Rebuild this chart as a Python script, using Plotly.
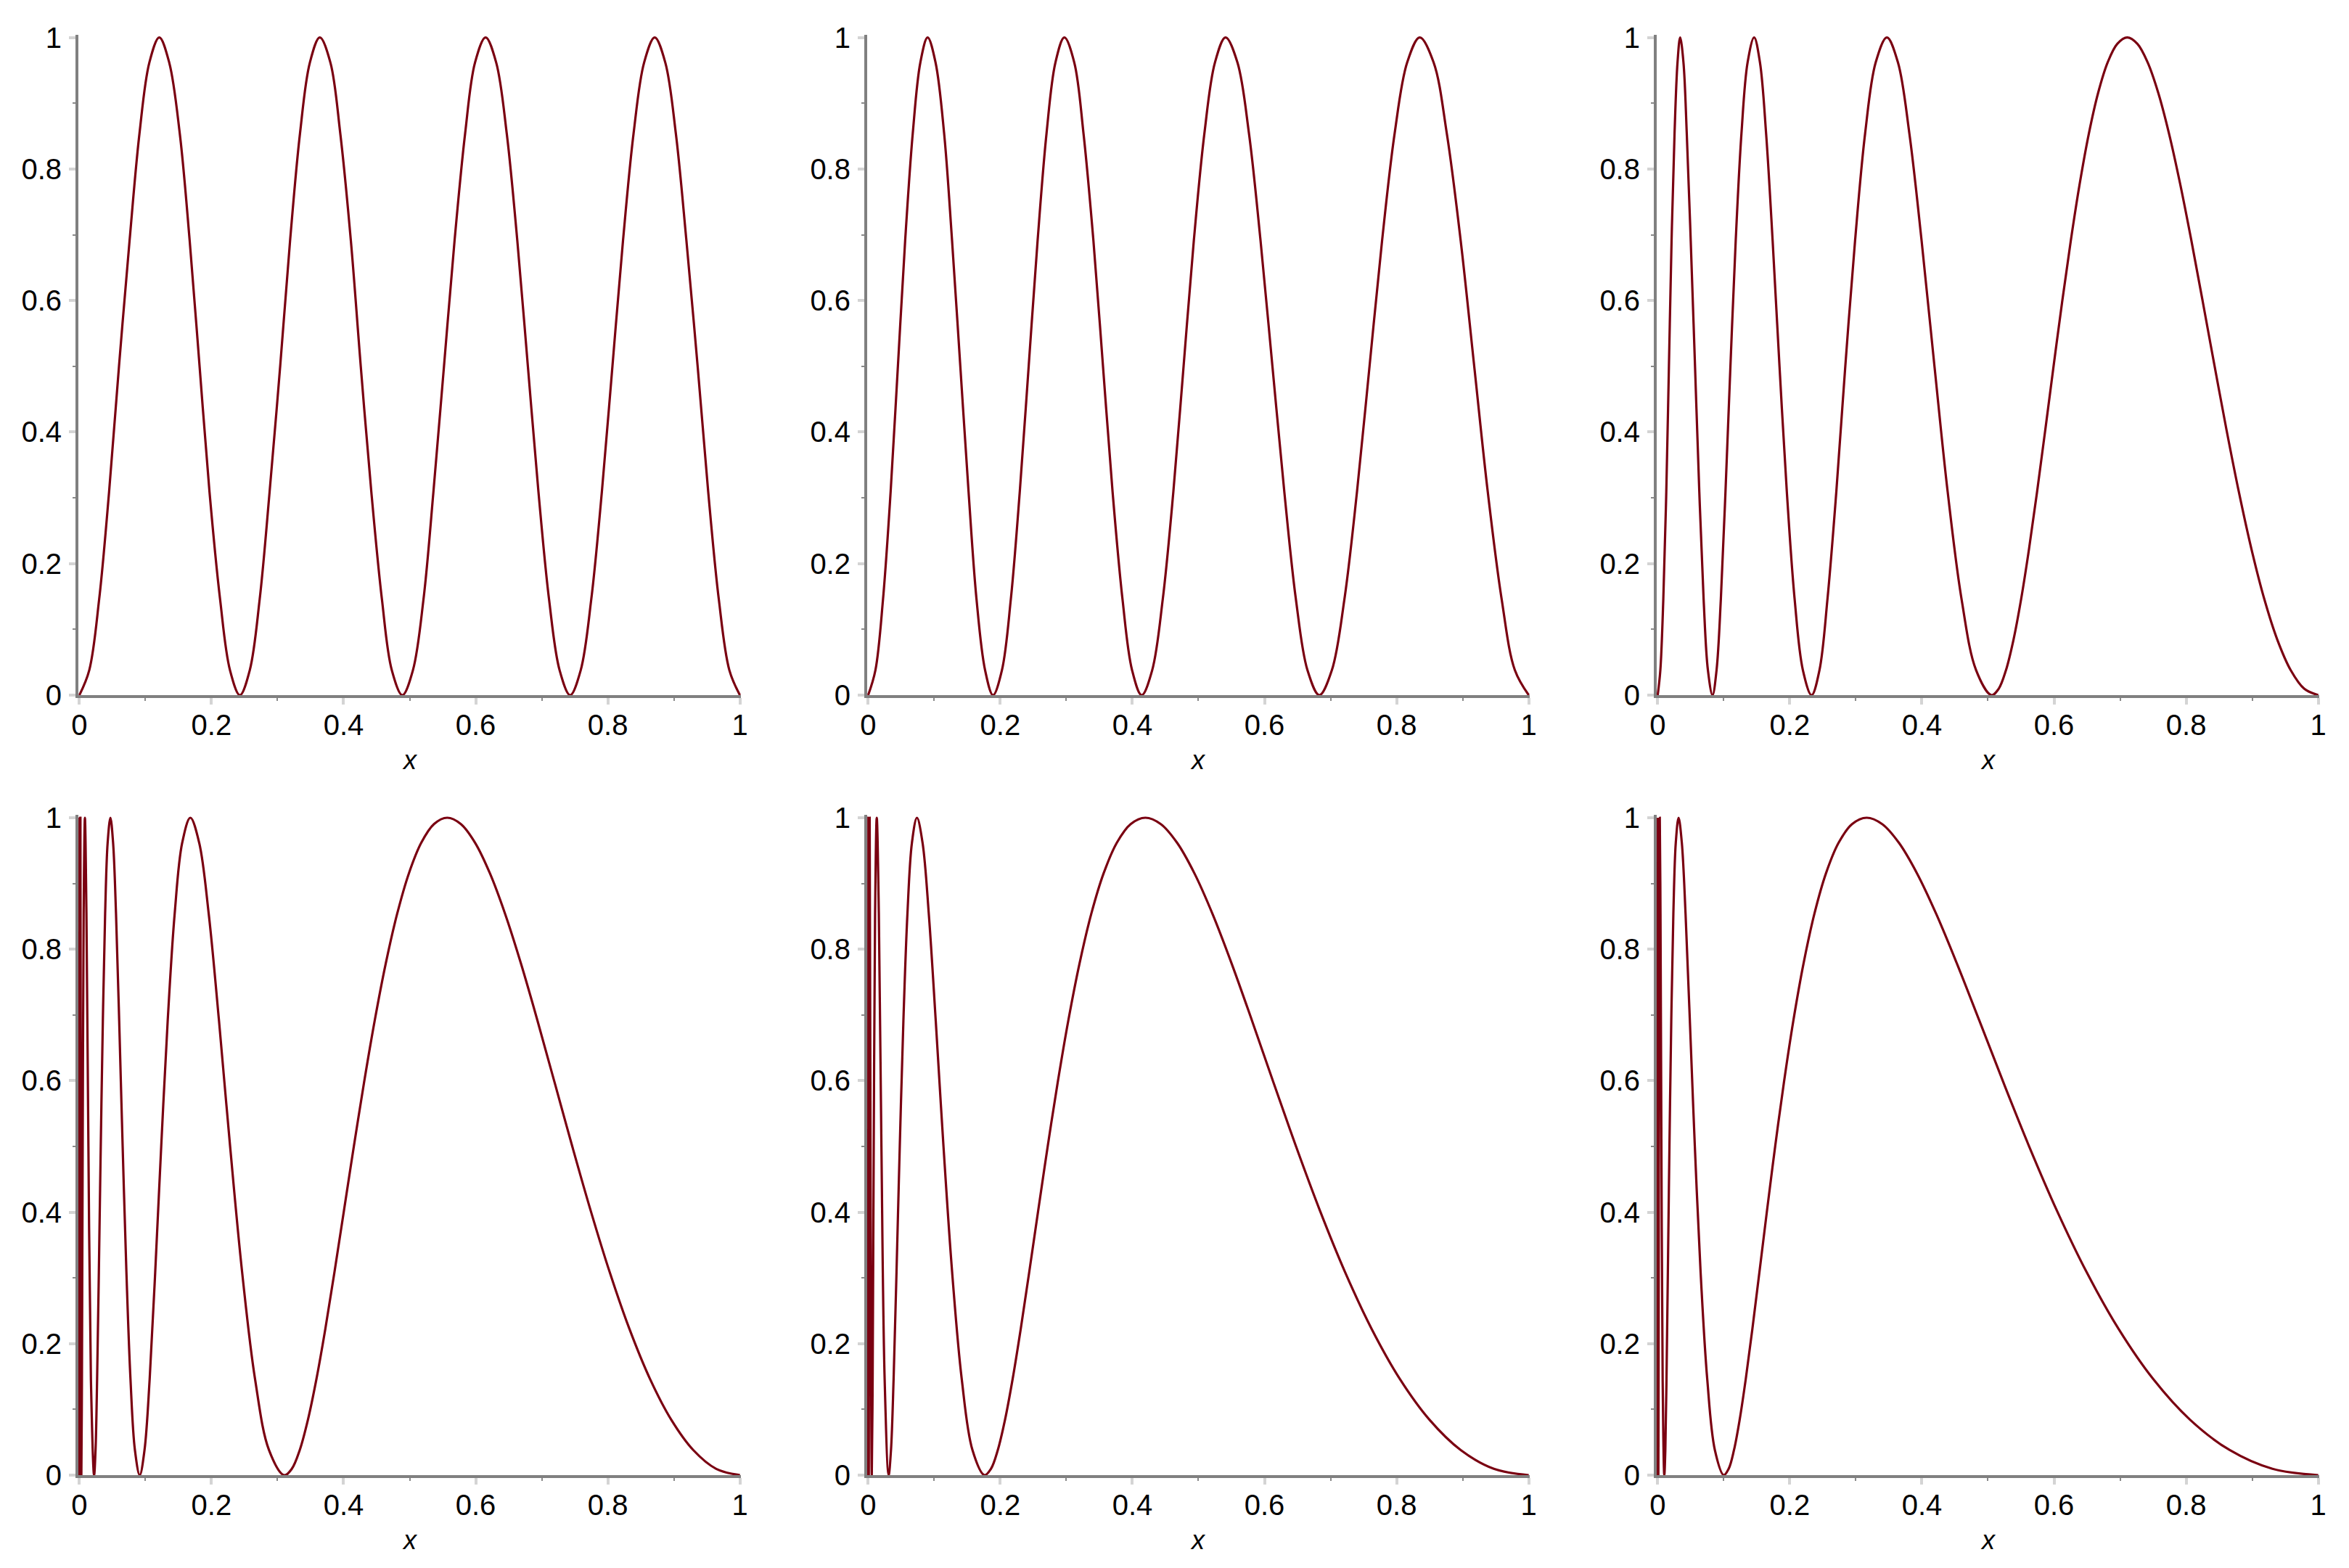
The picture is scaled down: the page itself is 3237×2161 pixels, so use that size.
import plotly.graph_objects as go
from plotly.subplots import make_subplots

# values (x in [0, 1], y in [0, 1])
p1_x = [0, 0.015, 0.030, 0.045, 0.060, 0.076, 0.091, 0.106, 0.121, 0.136, 0.152, 0.167, 0.182, 0.197, 0.213, 0.228,
        0.243, 0.258, 0.273, 0.288, 0.304, 0.319, 0.334, 0.349, 0.364, 0.380, 0.395, 0.411, 0.426, 0.442, 0.458, 0.473,
        0.489, 0.505, 0.521, 0.536, 0.552, 0.568, 0.584, 0.599, 0.615, 0.631, 0.647, 0.663, 0.679, 0.695, 0.711, 0.727,
        0.743, 0.759, 0.775, 0.791, 0.807, 0.823, 0.839, 0.855, 0.871, 0.887, 0.903, 0.919, 0.936, 0.952, 0.968, 0.984,
        1.0]
p1_y = [0, 0.038, 0.146, 0.309, 0.5, 0.691, 0.854, 0.962, 1, 0.962, 0.854, 0.691, 0.5, 0.309, 0.146, 0.038,
        0, 0.038, 0.146, 0.309, 0.5, 0.691, 0.854, 0.962, 1, 0.962, 0.854, 0.691, 0.5, 0.309, 0.146, 0.038,
        0, 0.038, 0.146, 0.309, 0.5, 0.691, 0.854, 0.962, 1, 0.962, 0.854, 0.691, 0.5, 0.309, 0.146, 0.038,
        0, 0.038, 0.146, 0.309, 0.5, 0.691, 0.854, 0.962, 1, 0.962, 0.854, 0.691, 0.5, 0.309, 0.146, 0.038,
        0]

p2_x = [0, 0.011, 0.0225, 0.034, 0.045, 0.056, 0.0675, 0.079, 0.090, 0.102, 0.115, 0.127, 0.1395, 0.152, 0.164, 0.177,
        0.189, 0.2025, 0.216, 0.2295, 0.243, 0.2565, 0.270, 0.2835, 0.297, 0.312, 0.326, 0.341, 0.3555, 0.370, 0.385, 0.3995,
        0.414, 0.430, 0.446, 0.462, 0.4775, 0.493, 0.509, 0.525, 0.541, 0.559, 0.5765, 0.594, 0.612, 0.630, 0.6475, 0.665,
        0.683, 0.702, 0.721, 0.740, 0.759, 0.778, 0.797, 0.816, 0.835, 0.856, 0.876, 0.897, 0.9175, 0.938, 0.959, 0.979,
        1.0]
p2_y = [0, 0.038, 0.146, 0.309, 0.5, 0.691, 0.854, 0.962, 1, 0.962, 0.854, 0.691, 0.5, 0.309, 0.146, 0.038,
        0, 0.038, 0.146, 0.309, 0.5, 0.691, 0.854, 0.962, 1, 0.962, 0.854, 0.691, 0.5, 0.309, 0.146, 0.038,
        0, 0.038, 0.146, 0.309, 0.5, 0.691, 0.854, 0.962, 1, 0.962, 0.854, 0.691, 0.5, 0.309, 0.146, 0.038,
        0, 0.038, 0.146, 0.309, 0.5, 0.691, 0.854, 0.962, 1, 0.962, 0.854, 0.691, 0.5, 0.309, 0.146, 0.038,
        0]

p3_x = [0, 0.004, 0.0085, 0.013, 0.017, 0.021, 0.0255, 0.030, 0.034, 0.039, 0.044, 0.050, 0.0565, 0.063, 0.0695, 0.076,
        0.083, 0.0891, 0.0956, 0.1026, 0.1101, 0.1181, 0.1268, 0.1361, 0.146, 0.1548, 0.1641, 0.1740, 0.1844, 0.1955,
        0.2073, 0.2198,
        0.233, 0.2449, 0.257, 0.2704, 0.284, 0.2988, 0.314, 0.330, 0.347, 0.3637, 0.381, 0.3995, 0.419, 0.439, 0.460,
        0.482,
        0.50526, 0.51616, 0.52729, 0.53866, 0.55027, 0.56214, 0.57426, 0.58664, 0.59929, 0.61222, 0.62542, 0.63890,
        0.65268, 0.66675, 0.68113, 0.69582, 0.71082, 0.72615, 0.74180, 0.75780, 0.77414, 0.79083, 0.80788, 0.82530,
        0.84310, 0.86128, 0.87985, 0.89882, 0.91820, 0.93800, 0.95822, 0.97889, 1.0]
p3_y = [0, 0.038, 0.146, 0.309, 0.5, 0.691, 0.854, 0.962, 1, 0.962, 0.854, 0.691, 0.5, 0.309, 0.146, 0.038,
        0, 0.038, 0.146, 0.309, 0.5, 0.691, 0.854, 0.962, 1, 0.962, 0.854, 0.691, 0.5, 0.309, 0.146, 0.038,
        0, 0.038, 0.146, 0.309, 0.5, 0.691, 0.854, 0.962, 1, 0.962, 0.854, 0.691, 0.5, 0.309, 0.146, 0.038,
        0, 0.0096, 0.0381, 0.0843, 0.1464, 0.2222, 0.3087, 0.4025, 0.5, 0.5975, 0.6913, 0.7778, 0.8536, 0.9157,
        0.9619, 0.9904, 1, 0.9904, 0.9619, 0.9157, 0.8536, 0.7778, 0.6913, 0.5975, 0.5, 0.4025, 0.3087, 0.2222,
        0.1464, 0.0843, 0.0381, 0.0096, 0]

p4_x = [0.0001, 0.0004, 0.0008, 0.0011, 0.0016, 0.0022,
        0.003, 0.00388, 0.00502, 0.00649, 0.0084, 0.01072, 0.01369, 0.01747,
        0.0223, 0.02448, 0.02687, 0.02950, 0.03238, 0.03554, 0.03901, 0.04282, 0.047, 0.05106, 0.05549, 0.06030,
        0.06553, 0.07122, 0.07739, 0.08411,
        0.0914, 0.09862, 0.10642, 0.11483, 0.12391, 0.13371, 0.14428, 0.15569, 0.168, 0.18138, 0.19581, 0.21140,
        0.22822, 0.24638, 0.26598, 0.28715,
        0.31007, 0.32162, 0.33361, 0.34604, 0.35894, 0.37232, 0.38619, 0.40059, 0.41552, 0.43101, 0.44707, 0.46373,
        0.48102, 0.49895, 0.51754, 0.53683, 0.55684, 0.57759, 0.59912, 0.62145, 0.64461, 0.66864, 0.69356, 0.71941,
        0.74622, 0.77403, 0.80288, 0.83280, 0.86384, 0.89604, 0.92943, 0.96407, 1.0]
p4_y = [0, 1, 0, 0.5, 1, 0.5,
        0, 0.146, 0.5, 0.854, 1, 0.854, 0.5, 0.146,
        0, 0.038, 0.146, 0.309, 0.5, 0.691, 0.854, 0.962, 1, 0.962, 0.854, 0.691, 0.5, 0.309, 0.146, 0.038,
        0, 0.038, 0.146, 0.309, 0.5, 0.691, 0.854, 0.962, 1, 0.962, 0.854, 0.691, 0.5, 0.309, 0.146, 0.038,
        0, 0.0096, 0.0381, 0.0843, 0.1464, 0.2222, 0.3087, 0.4025, 0.5, 0.5975, 0.6913, 0.7778, 0.8536, 0.9157,
        0.9619, 0.9904, 1, 0.9904, 0.9619, 0.9157, 0.8536, 0.7778, 0.6913, 0.5975, 0.5, 0.4025, 0.3087, 0.2222,
        0.1464, 0.0843, 0.0381, 0.0096, 0]

p5_x = [0.00017, 0.0004, 0.00096, 0.00148, 0.00229, 0.00354,
        0.00546, 0.00678, 0.00842, 0.01046, 0.013, 0.01616, 0.02007, 0.02494,
        0.03099, 0.03454, 0.03850, 0.04292, 0.04784, 0.05333, 0.05944, 0.06626, 0.07386, 0.08233, 0.09177, 0.10230,
        0.11403, 0.12710, 0.14168, 0.15793,
        0.17604, 0.18586, 0.19623, 0.20718, 0.21874, 0.23094, 0.24382, 0.25742, 0.27178, 0.28694, 0.30295, 0.31985,
        0.33769, 0.35652, 0.37641, 0.39741, 0.41958, 0.44298, 0.46769, 0.49378, 0.52133, 0.55041, 0.58111, 0.61352,
        0.64775, 0.68388, 0.72203, 0.76230, 0.80483, 0.84972, 0.89712, 0.94717, 1.0]
p5_y = [0, 1, 0, 0.5, 1, 0.5,
        0, 0.146, 0.5, 0.854, 1, 0.854, 0.5, 0.146,
        0, 0.038, 0.146, 0.309, 0.5, 0.691, 0.854, 0.962, 1, 0.962, 0.854, 0.691, 0.5, 0.309, 0.146, 0.038,
        0, 0.0096, 0.0381, 0.0843, 0.1464, 0.2222, 0.3087, 0.4025, 0.5, 0.5975, 0.6913, 0.7778, 0.8536, 0.9157,
        0.9619, 0.9904, 1, 0.9904, 0.9619, 0.9157, 0.8536, 0.7778, 0.6913, 0.5975, 0.5, 0.4025, 0.3087, 0.2222,
        0.1464, 0.0843, 0.0381, 0.0096, 0]

p6_x = [0.0001, 0.000178, 0.000316, 0.000562,
        0.001, 0.00133, 0.00178, 0.00237, 0.00316, 0.00422, 0.00562, 0.0075,
        0.01, 0.011548, 0.013335, 0.015399, 0.017783, 0.020535, 0.023714, 0.027384, 0.031623, 0.036517, 0.04217,
        0.048697, 0.056234, 0.064938, 0.074989, 0.086596,
        0.1, 0.10746, 0.11548, 0.12409, 0.13335, 0.14330, 0.15399, 0.16548, 0.17783, 0.19110, 0.20535, 0.22067,
        0.23714, 0.25483, 0.27384, 0.29427, 0.31623, 0.33982, 0.36517, 0.39242, 0.42170, 0.45316, 0.48697, 0.52330,
        0.56234, 0.60430, 0.64938, 0.69783, 0.74989, 0.80584, 0.86596, 0.93057, 1.0]
p6_y = [0, 0.5, 1, 0.5,
        0, 0.146, 0.5, 0.854, 1, 0.854, 0.5, 0.146,
        0, 0.038, 0.146, 0.309, 0.5, 0.691, 0.854, 0.962, 1, 0.962, 0.854, 0.691, 0.5, 0.309, 0.146, 0.038,
        0, 0.0096, 0.0381, 0.0843, 0.1464, 0.2222, 0.3087, 0.4025, 0.5, 0.5975, 0.6913, 0.7778, 0.8536, 0.9157,
        0.9619, 0.9904, 1, 0.9904, 0.9619, 0.9157, 0.8536, 0.7778, 0.6913, 0.5975, 0.5, 0.4025, 0.3087, 0.2222,
        0.1464, 0.0843, 0.0381, 0.0096, 0]

tick_vals = [0, 0.2, 0.4, 0.6, 0.8, 1]
tick_text = ["0", "0.2", "0.4", "0.6", "0.8", "1"]

panels = [(p1_x, p1_y), (p2_x, p2_y), (p3_x, p3_y),
          (p4_x, p4_y), (p5_x, p5_y), (p6_x, p6_y)]

# page body adds an 8px margin, so domains are shifted up/left by that much
x_domains = [[0.030893, 0.312944], [0.366697, 0.648749], [0.702811, 0.984863]]
y_domains = [[0.560389, 0.98149], [0.062934, 0.48385]]

CURVE = "#7a0011"
FONT = "Liberation Sans"

fig = make_subplots(rows=2, cols=3)

for i, (xs, ys) in enumerate(panels):
    r, c = i // 3 + 1, i % 3 + 1
    fig.add_trace(go.Scatter(x=xs, y=ys, mode="lines",
                             line=dict(color=CURVE, width=3.2, shape="spline", smoothing=1.0),
                             showlegend=False, hoverinfo="skip"),
                  row=r, col=c)
    fig.update_xaxes(domain=x_domains[c - 1], row=r, col=c)
    fig.update_yaxes(domain=y_domains[r - 1], row=r, col=c)
    suffix = "" if i == 0 else str(i + 1)
    fig.add_annotation(text="<i>x</i>", xref=f"x{suffix} domain", yref=f"y{suffix} domain",
                       x=0.5, y=-0.098, showarrow=False, yanchor="middle",
                       font=dict(family=FONT, size=36, color="black"))

axis_style = dict(
    tickvals=tick_vals, ticktext=tick_text, automargin=False,
    showline=True, linecolor="#808080", linewidth=4,
    ticks="outside", ticklen=9, tickwidth=4, tickcolor="#d4d4d4",
    minor=dict(dtick=0.1, tick0=0, ticks="outside", ticklen=4, tickwidth=2, tickcolor="#8a8a8a"),
    showgrid=False, zeroline=False,
    tickfont=dict(family=FONT, size=40, color="black"),
)
fig.update_xaxes(range=[-0.0015, 1.0015], ticklabelstandoff=-6, **axis_style)
fig.update_yaxes(range=[0, 1.004], ticklabelstandoff=2, **axis_style)

fig.update_layout(width=3237, height=2161, margin=dict(l=0, r=0, t=0, b=0),
                  plot_bgcolor="white", paper_bgcolor="white")

fig.write_html("out.html")
